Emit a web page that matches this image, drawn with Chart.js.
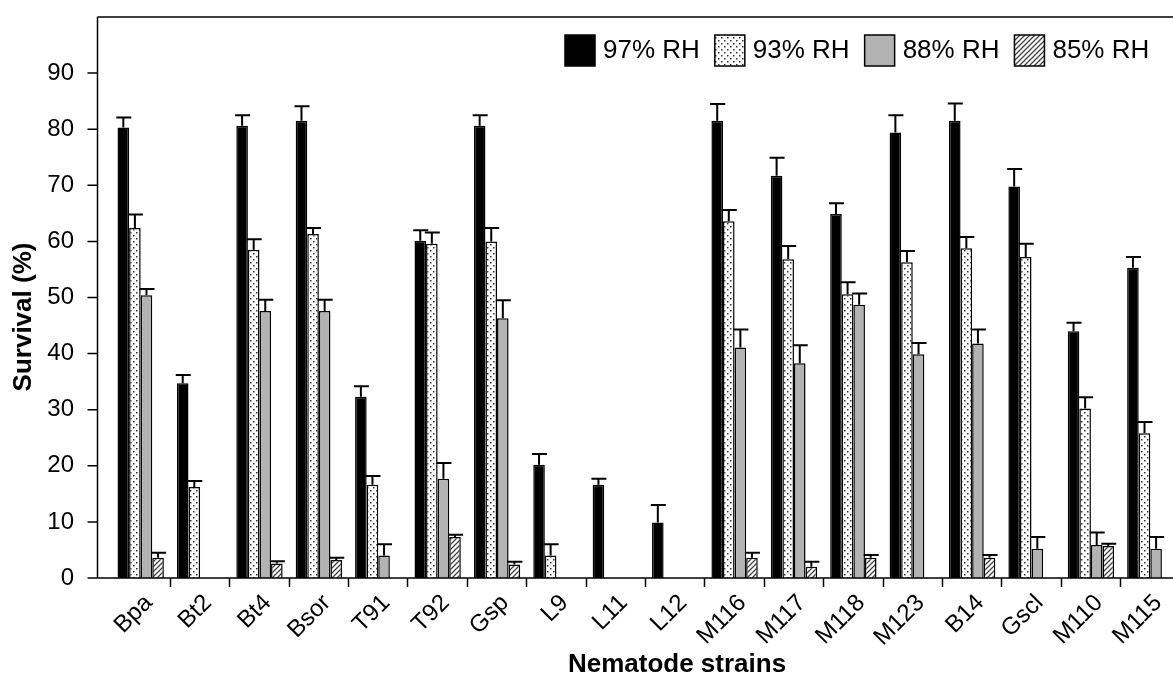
<!DOCTYPE html>
<html>
<head>
<meta charset="utf-8">
<title>Survival of nematode strains</title>
<script src="https://cdn.jsdelivr.net/npm/chart.js@4"></script>
<style>
body { margin: 0; background: #fff; }
#chart-container { width: 1173px; height: 677px; overflow: hidden; }
canvas { display: block; }
</style>
</head>
<body>
<div id="chart-container"><canvas id="grafico" width="1190" height="677"></canvas></div>
<script>
// datos
const strains = ["Bpa", "Bt2", "Bt4", "Bsor", "T91", "T92", "Gsp", "L9", "L11", "L12", "M116", "M117", "M118", "M123", "B14", "Gscl", "M110", "M115"]
const seriesLabels = ["97% RH", "93% RH", "88% RH", "85% RH"]

const rh97 = [80.3, 34.7, 80.6, 81.5, 32.3, 60.1, 80.6, 20.2, 16.6, 9.9, 81.5, 71.7, 64.9, 79.4, 81.5, 69.8, 44.0, 55.3]
const err97 = [1.8, 1.5, 1.9, 2.6, 1.9, 1.9, 1.9, 1.9, 1.1, 3.1, 3.0, 3.2, 1.9, 3.1, 3.1, 3.1, 1.5, 1.9]
const rh93 = [62.4, 16.2, 58.5, 61.3, 16.6, 59.6, 60.0, 4.0, 0, 0, 63.6, 56.8, 50.6, 56.3, 58.8, 57.2, 30.2, 25.8]
const err93 = [2.4, 1.1, 1.9, 1.1, 1.6, 2.0, 2.4, 2.0, 0, 0, 2.0, 2.4, 2.1, 2.0, 2.0, 2.4, 2.0, 2.0]
const rh88 = [50.4, 0, 47.6, 47.6, 4.0, 17.7, 46.3, 0, 0, 0, 41.1, 38.3, 48.7, 39.9, 41.8, 5.2, 5.9, 5.2]
const err88 = [1.1, 0, 2.0, 2.0, 2.0, 2.8, 3.2, 0, 0, 0, 3.2, 3.2, 2.0, 2.0, 2.5, 2.1, 2.2, 2.1]
const rh85 = [3.6, 0, 2.6, 3.2, 0, 7.3, 2.4, 0, 0, 0, 3.6, 2.0, 3.6, 0, 3.6, 0, 5.7, 0]
const err85 = [0.9, 0, 0.4, 0.4, 0, 0.4, 0.5, 0, 0, 0, 0.9, 0.9, 0.5, 0, 0.5, 0, 0.4, 0]

const yTicks = [0, 10, 20, 30, 40, 50, 60, 70, 80, 90]

const fontFamily = "'Liberation Sans', Arial, Helvetica, sans-serif"

//patron de puntos
function dotPattern() {
    const c = document.createElement("canvas")
    c.width = 6
    c.height = 6
    const ctx = c.getContext("2d")
    ctx.fillStyle = "#fff"
    ctx.fillRect(0, 0, 6, 6)
    ctx.fillStyle = "#333"
    ctx.fillRect(1, 1, 1.5, 1.5)
    ctx.fillRect(4, 4, 1.5, 1.5)
    return ctx.createPattern(c, "repeat")
}

//patron de rayas diagonales
function hatchPattern() {
    const s = 5
    const c = document.createElement("canvas")
    c.width = s
    c.height = s
    const ctx = c.getContext("2d")
    ctx.fillStyle = "#fff"
    ctx.fillRect(0, 0, s, s)
    ctx.strokeStyle = "#444"
    ctx.lineWidth = 1.3
    ctx.beginPath()
    ctx.moveTo(0, s)
    ctx.lineTo(s, 0)
    ctx.moveTo(-1, 1)
    ctx.lineTo(1, -1)
    ctx.moveTo(s - 1, s + 1)
    ctx.lineTo(s + 1, s - 1)
    ctx.stroke()
    return ctx.createPattern(c, "repeat")
}

//barras de error (solo hacia arriba)
const errorBars = {
    id: "errorBars",
    afterDatasetsDraw(chart) {
        const ctx = chart.ctx
        const yScale = chart.scales.y
        ctx.save()
        ctx.strokeStyle = "#000"
        ctx.lineWidth = 2
        chart.data.datasets.forEach((ds, i) => {
            const meta = chart.getDatasetMeta(i)
            meta.data.forEach((bar, j) => {
                const e = ds.errors[j]
                if (!e) return
                const yTop = yScale.getPixelForValue(ds.data[j] + e)
                ctx.beginPath()
                ctx.moveTo(bar.x, bar.y)
                ctx.lineTo(bar.x, yTop)
                ctx.moveTo(bar.x - 7, yTop)
                ctx.lineTo(bar.x + 8, yTop)
                ctx.stroke()
            })
        })
        ctx.restore()
    }
}

//marco, ticks del eje y, titulos y leyenda
const frame = {
    id: "frame",
    afterDraw(chart) {
        const { ctx, chartArea } = chart
        const yScale = chart.scales.y
        const x0 = chartArea.left - 13.5
        ctx.save()
        ctx.strokeStyle = "#000"
        ctx.lineWidth = 1.5
        ctx.beginPath()
        ctx.moveTo(x0, chartArea.top)
        ctx.lineTo(chart.width, chartArea.top)
        ctx.moveTo(x0, chartArea.top)
        ctx.lineTo(x0, chartArea.bottom)
        ctx.moveTo(x0, chartArea.bottom)
        ctx.lineTo(chart.width, chartArea.bottom)
        yTicks.forEach((v) => {
            const py = yScale.getPixelForValue(v)
            ctx.moveTo(x0 - 10, py)
            ctx.lineTo(x0, py)
        })
        ctx.stroke()

        ctx.fillStyle = "#000"
        ctx.font = "bold 26px " + fontFamily
        ctx.textAlign = "center"
        ctx.textBaseline = "middle"
        ctx.fillText("Nematode strains", 677, 665)
        ctx.save()
        ctx.translate(24, 317)
        ctx.rotate(-Math.PI / 2)
        ctx.fillText("Survival (%)", 0, 0)
        ctx.restore()

        // leyenda
        let lx = 565
        ctx.font = "26px " + fontFamily
        ctx.textAlign = "left"
        chart.data.datasets.forEach((ds) => {
            ctx.fillStyle = ds.backgroundColor
            ctx.fillRect(lx, 35, 30, 31)
            ctx.lineWidth = 1.5
            ctx.strokeRect(lx, 35, 30, 31)
            ctx.fillStyle = "#000"
            ctx.fillText(ds.label, lx + 38, 51)
            lx += 38 + ctx.measureText(ds.label).width + 15
        })
        ctx.restore()
    }
}

const fills = ["#000", dotPattern(), "#b3b3b3", hatchPattern()]
const values = [rh97, rh93, rh88, rh85]
const errors = [err97, err93, err88, err85]

const datasets = seriesLabels.map((label, i) => ({
    label: label,
    data: values[i],
    errors: errors[i],
    backgroundColor: fills[i],
    borderColor: "#000",
    borderWidth: 1.5,
    categoryPercentage: 0.78,
    barPercentage: 1.0
}))

const config = {
    type: "bar",
    data: {
        labels: strains,
        datasets: datasets
    },
    options: {
        responsive: false,
        animation: false,
        devicePixelRatio: 1,
        layout: { padding: { top: 17, right: 10, left: 0, bottom: 0 } },
        plugins: {
            legend: { display: false },
            tooltip: { enabled: false }
        },
        scales: {
            x: {
                offset: true,
                grid: {
                    display: true,
                    offset: true,
                    drawOnChartArea: false,
                    drawTicks: true,
                    tickLength: 9,
                    tickWidth: 1.5,
                    tickColor: (c) => c.index === 0 ? "rgba(0,0,0,0)" : "#000"
                },
                border: { display: false },
                ticks: {
                    autoSkip: false,
                    minRotation: 45,
                    maxRotation: 45,
                    labelOffset: 8,
                    padding: 2,
                    color: "#000",
                    font: { size: 24, family: fontFamily }
                },
                afterFit(scale) {
                    scale.height = 99
                    scale.paddingLeft = 0
                    scale.paddingRight = 0
                }
            },
            y: {
                min: 0,
                max: 100,
                grid: { display: false },
                border: { display: false },
                ticks: {
                    stepSize: 10,
                    padding: 29,
                    color: "#000",
                    font: { size: 24, family: fontFamily },
                    callback: (v) => v === 100 ? "" : v
                },
                afterFit(scale) {
                    scale.width = 111
                    scale.paddingTop = 0
                    scale.paddingBottom = 0
                }
            }
        }
    },
    plugins: [errorBars, frame]
}

const graficoSupervivencia = new Chart(document.getElementById("grafico"), config)
</script>
</body>
</html>
